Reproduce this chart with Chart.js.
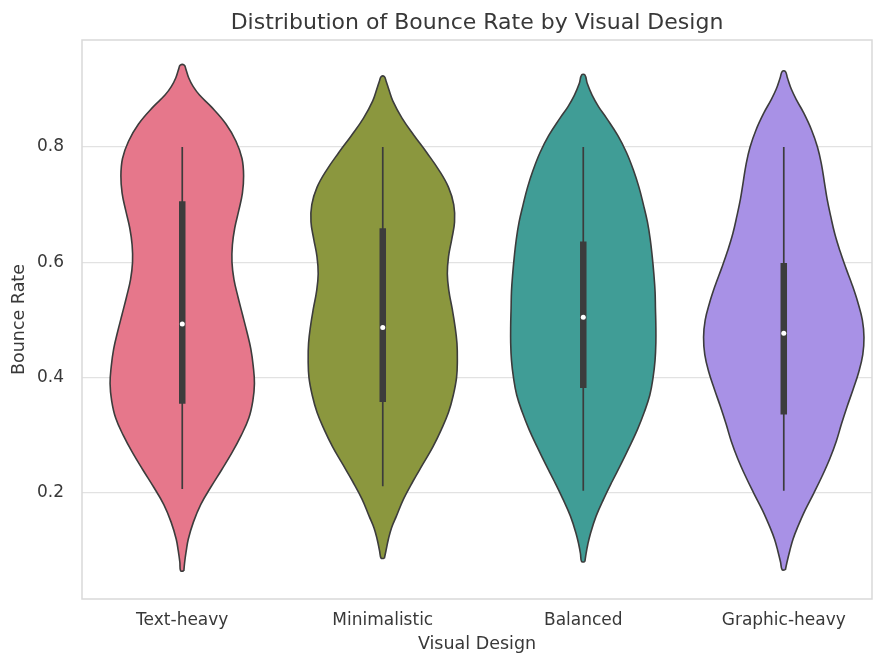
<!DOCTYPE html>
<html>
<head>
<meta charset="utf-8">
<script src="https://cdn.jsdelivr.net/npm/chart.js@4.4.1/dist/chart.umd.min.js"></script>
<style>
  html, body { margin: 0; padding: 0; background: #ffffff; }
  #wrap { width: 876px; height: 655px; }
</style>
</head>
<body>
<div id="wrap"><canvas id="chart" width="876" height="655"></canvas></div>
<script>
// Categories and axis ticks
const categories = ['Text-heavy', 'Minimalistic', 'Balanced', 'Graphic-heavy'];
const yTicks = [0.2, 0.4, 0.6, 0.8];

// Kernel density profiles: bounce-rate levels and relative density (1 = widest violin)
const textHeavyLevels = [0.065, 0.08, 0.10, 0.12, 0.15, 0.18, 0.21, 0.24, 0.27, 0.30, 0.33, 0.36, 0.39, 0.42, 0.45, 0.48, 0.51, 0.54, 0.57, 0.60, 0.63, 0.66, 0.69, 0.72, 0.75, 0.78, 0.81, 0.84, 0.87, 0.89, 0.905, 0.92, 0.935, 0.942];
const textHeavyDensity = [0.02, 0.03, 0.05, 0.075, 0.14, 0.23, 0.355, 0.49, 0.62, 0.735, 0.83, 0.88, 0.90, 0.885, 0.855, 0.805, 0.75, 0.695, 0.645, 0.62, 0.625, 0.655, 0.705, 0.75, 0.765, 0.745, 0.67, 0.545, 0.36, 0.215, 0.135, 0.08, 0.045, 0.025];

const minimalisticLevels = [0.087, 0.10, 0.12, 0.14, 0.16, 0.19, 0.22, 0.25, 0.28, 0.31, 0.34, 0.37, 0.40, 0.43, 0.46, 0.49, 0.52, 0.55, 0.58, 0.61, 0.64, 0.67, 0.70, 0.73, 0.76, 0.79, 0.82, 0.85, 0.88, 0.90, 0.915, 0.922];
const minimalisticDensity = [0.02, 0.04, 0.07, 0.11, 0.17, 0.26, 0.375, 0.50, 0.625, 0.73, 0.82, 0.88, 0.92, 0.93, 0.925, 0.90, 0.865, 0.825, 0.805, 0.82, 0.86, 0.895, 0.885, 0.82, 0.70, 0.55, 0.39, 0.24, 0.125, 0.075, 0.04, 0.02];

const balancedLevels = [0.081, 0.095, 0.11, 0.13, 0.16, 0.19, 0.22, 0.25, 0.28, 0.31, 0.34, 0.37, 0.40, 0.43, 0.46, 0.49, 0.52, 0.55, 0.58, 0.61, 0.64, 0.67, 0.70, 0.73, 0.76, 0.79, 0.82, 0.85, 0.87, 0.89, 0.91, 0.925];
const balancedDensity = [0.02, 0.035, 0.055, 0.09, 0.16, 0.255, 0.36, 0.47, 0.575, 0.675, 0.76, 0.83, 0.87, 0.895, 0.905, 0.905, 0.90, 0.895, 0.88, 0.86, 0.835, 0.80, 0.75, 0.695, 0.625, 0.54, 0.43, 0.29, 0.19, 0.11, 0.05, 0.02];

const graphicHeavyLevels = [0.067, 0.08, 0.10, 0.12, 0.14, 0.17, 0.20, 0.23, 0.26, 0.29, 0.32, 0.35, 0.38, 0.41, 0.44, 0.47, 0.50, 0.53, 0.56, 0.59, 0.62, 0.65, 0.68, 0.71, 0.74, 0.77, 0.80, 0.83, 0.86, 0.88, 0.90, 0.92, 0.931];
const graphicHeavyDensity = [0.02, 0.04, 0.075, 0.115, 0.17, 0.265, 0.375, 0.48, 0.575, 0.655, 0.72, 0.79, 0.865, 0.935, 0.985, 1.00, 0.98, 0.925, 0.855, 0.775, 0.70, 0.635, 0.585, 0.54, 0.505, 0.47, 0.42, 0.345, 0.245, 0.165, 0.095, 0.045, 0.02];

// Box summary per category
const whiskerLow  = [0.207, 0.212, 0.204, 0.204];
const whiskerHigh = [0.800, 0.800, 0.800, 0.800];
const quartile1   = [0.355, 0.358, 0.382, 0.336];
const quartile3   = [0.706, 0.659, 0.636, 0.599];
const medians     = [0.493, 0.487, 0.505, 0.477];

const fillColors = ['#e6778b', '#8b973e', '#409d96', '#a891e6'];
const lineGray = '#3c3c3c';
const textColor = '#383838';
const FONT = 'DejaVu Sans, Verdana, sans-serif';
const MAX_HALF_WIDTH = 0.4;

const profiles = [
  [textHeavyLevels, textHeavyDensity],
  [minimalisticLevels, minimalisticDensity],
  [balancedLevels, balancedDensity],
  [graphicHeavyLevels, graphicHeavyDensity]
];

// Closed outline: right side bottom->top, then left side top->bottom
function violinOutline(i, levels, density) {
  const right = levels.map((y, k) => ({ x: i + density[k] * MAX_HALF_WIDTH, y }));
  const left = levels.map((y, k) => ({ x: i - density[k] * MAX_HALF_WIDTH, y })).reverse();
  return right.concat(left, [right[0]]);
}

const datasets = [];
profiles.forEach(([levels, density], i) => {
  datasets.push({
    label: categories[i],
    data: violinOutline(i, levels, density),
    backgroundColor: fillColors[i],
    borderColor: lineGray,
    borderWidth: 1.6,
    fill: 'shape',
    tension: 0.4,
    pointRadius: 0,
    order: 3
  });
});
categories.forEach((c, i) => {
  datasets.push({
    label: c + ' whisker',
    data: [{ x: i, y: whiskerLow[i] }, { x: i, y: whiskerHigh[i] }],
    borderColor: lineGray,
    borderWidth: 1.7,
    pointRadius: 0,
    fill: false,
    order: 2
  });
  datasets.push({
    label: c + ' IQR',
    data: [{ x: i, y: quartile1[i] }, { x: i, y: quartile3[i] }],
    borderColor: lineGray,
    borderWidth: 6.5,
    borderCapStyle: 'butt',
    pointRadius: 0,
    fill: false,
    order: 1
  });
  datasets.push({
    label: c + ' median',
    data: [{ x: i, y: medians[i] }],
    showLine: false,
    pointRadius: 2.5,
    pointBackgroundColor: '#ffffff',
    pointBorderWidth: 0,
    fill: false,
    order: 0
  });
});

// Light frame around the plotting area
const frame = {
  id: 'frame',
  beforeDatasetsDraw(chart) {
    const { ctx, chartArea: a } = chart;
    ctx.save();
    ctx.strokeStyle = '#d9d9d9';
    ctx.lineWidth = 1.5;
    ctx.strokeRect(a.left, a.top, a.right - a.left, a.bottom - a.top);
    ctx.restore();
  }
};

new Chart(document.getElementById('chart'), {
  type: 'line',
  data: { datasets },
  options: {
    responsive: false,
    animation: false,
    events: [],
    layout: { padding: { left: 0, right: 4, top: 0, bottom: 0 } },
    plugins: {
      legend: { display: false },
      tooltip: { enabled: false },
      title: {
        display: true,
        fullSize: false,
        text: 'Distribution of Bounce Rate by Visual Design',
        color: textColor,
        font: { family: FONT, size: 22, weight: 'normal' },
        padding: { top: 10, bottom: 3.6 }
      }
    },
    scales: {
      x: {
        type: 'linear',
        min: -0.5,
        max: 3.44,
        afterBuildTicks: s => { s.ticks = categories.map((c, i) => ({ value: i })); },
        afterFit: s => { s.height = 56; },
        grid: { display: false, drawTicks: false },
        border: { display: false },
        ticks: {
          autoSkip: false,
          maxRotation: 0,
          padding: 11,
          color: textColor,
          font: { family: FONT, size: 17 },
          callback: v => categories[v]
        },
        title: {
          display: true,
          text: 'Visual Design',
          color: textColor,
          font: { family: FONT, size: 17.5 },
          padding: { top: 0, bottom: 0.5 }
        }
      },
      y: {
        type: 'linear',
        min: 0.0163,
        max: 0.9855,
        afterBuildTicks: s => { s.ticks = yTicks.map(v => ({ value: v })); },
        afterFit: s => { s.width = 82; },
        grid: { color: '#e2e2e2', lineWidth: 1.2, drawTicks: false },
        border: { display: false },
        ticks: {
          padding: 18,
          color: textColor,
          font: { family: FONT, size: 17 },
          callback: v => v.toFixed(1)
        },
        title: {
          display: true,
          text: 'Bounce Rate',
          color: textColor,
          font: { family: FONT, size: 17.5 },
          padding: { top: 9, bottom: 0 }
        }
      }
    }
  },
  plugins: [frame]
});
</script>
</body>
</html>
